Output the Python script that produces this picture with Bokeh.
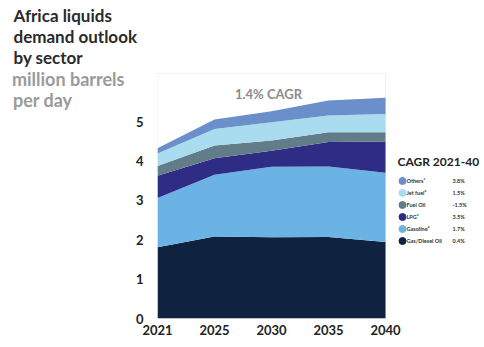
from bokeh.plotting import figure
from bokeh.models import (ColumnDataSource, Label, FixedTicker, Range1d, BoxAnnotation, LinearAxis)
from bokeh.embed import file_html
from bokeh.resources import INLINE
from bokeh.core.properties import value

years = ["2021", "2025", "2030", "2035", "2040"]
gas_diesel = [1.81, 2.08, 2.06, 2.07, 1.94]
gasoline = [1.25, 1.57, 1.79, 1.79, 1.76]
lpg = [0.56, 0.42, 0.41, 0.62, 0.79]
fuel_oil = [0.25, 0.32, 0.26, 0.25, 0.24]
jet_fuel = [0.32, 0.42, 0.46, 0.42, 0.46]
others = [0.13, 0.24, 0.28, 0.38, 0.41]
colors = ["#0f2340", "#6bb3e5", "#2f2c86", "#627d89", "#a9dcef", "#6a8fcb"]

legend_labels = ["Others\u00b9", "Jet fuel\u00b2", "Fuel Oil", "LPG\u00b3", "Gasoline\u2074", "Gas/Diesel Oil"]
legend_cagr = ["3.8%", "1.5%", "-1.5%", "3.5%", "1.7%", "0.4%"]
legend_colors = ["#6a8fcb", "#a9dcef", "#627d89", "#2f2c86", "#6bb3e5", "#0f2340"]
total_cagr = "1.4% CAGR"
title_text = "Africa liquids\ndemand outlook\nby sector"
unit_lines = ["million barrels", "per day"]
y_ticks = [0, 1, 2, 3, 4, 5]

FONT = "Lato"
TOP = 67            # frame top (px)
PPU = 39.4          # px per unit on y

xs = list(range(len(years)))
src = ColumnDataSource(dict(x=xs, gd=gas_diesel, gs=gasoline, lpg=lpg, fo=fuel_oil, jf=jet_fuel, ot=others))

p = figure(width=484, height=347, output_backend="svg", toolbar_location=None,
           x_range=Range1d(0, 4 + 99 / 57), y_range=Range1d(0, (318 - TOP) / PPU),
           min_border_left=157, min_border_right=0, min_border_top=TOP, min_border_bottom=29)
p.extra_x_ranges["px"] = Range1d(157, 484)
p.extra_y_ranges["px"] = Range1d(318, TOP)

p.add_layout(BoxAnnotation(left=0, right=4, bottom=0, top=(318 - 73) / PPU, fill_alpha=0,
                           line_color="#c8c8c8", line_width=1, level="underlay"))
p.varea_stack(stackers=["gd", "gs", "lpg", "fo", "jf", "ot"], x="x", color=colors, source=src)

p.outline_line_color = None
p.background_fill_color = "white"
p.border_fill_color = "white"
p.grid.visible = False

p.xaxis.ticker = FixedTicker(ticks=xs)
p.xaxis.major_label_overrides = {i: y for i, y in enumerate(years)}
p.yaxis.ticker = FixedTicker(ticks=y_ticks)

# unit lines shown as the labels of a second, bare axis on the left
NB = "\u00a0"
unit_axis = LinearAxis(y_range_name="px", ticker=FixedTicker(ticks=[78, 99]),
                       major_label_overrides={78: unit_lines[0], 99: unit_lines[1] + NB * 12})
p.add_layout(unit_axis, "left")

for ax in (p.xaxis[0], p.yaxis[0], unit_axis):
    ax.axis_line_color = None
    ax.major_tick_line_color = None
    ax.minor_tick_line_color = None
    ax.major_tick_out = 0
    ax.major_tick_in = 0
    ax.minor_tick_out = 0
    ax.minor_tick_in = 0
    ax.major_label_text_font = FONT
    ax.major_label_text_font_style = "bold"
    ax.major_label_text_font_size = "13px"
    ax.major_label_text_color = "#222222"
p.xaxis.major_label_standoff = 6
p.yaxis[0].major_label_standoff = 14
unit_axis.major_label_text_font_size = "18px"
unit_axis.major_label_text_color = "#9a9a9a"
unit_axis.major_label_standoff = 8

p.add_layout(Label(x=111, y=225, x_units="screen", y_units="screen", text=total_cagr,
                   text_font=FONT, text_font_style="bold", text_font_size="13px",
                   text_color="#8c8c8c", text_align="center", text_baseline="middle"))

# title
p.title.text = title_text
p.title.align = "left"
p.title.offset = 13 - 157
p.title.standoff = 0
p.title.text_font = FONT
p.title.text_font_style = "bold"
p.title.text_font_size = "17px"
p.title.text_color = "#2a2a2a"

# legend
ly = [180.5 + 12 * i for i in range(len(legend_labels))]
lsrc = ColumnDataSource(dict(y=ly, lab=legend_labels, cagr=legend_cagr, col=legend_colors))
p.scatter(x=402, y="y", size=7, color="col", source=lsrc, x_range_name="px", y_range_name="px")
p.text(x=406, y="y", text="lab", source=lsrc, text_font=value(FONT), text_font_style="bold",
       text_font_size="5.5px", text_color="#333333", text_baseline="middle",
       x_range_name="px", y_range_name="px")
p.text(x=452, y="y", text="cagr", source=lsrc, text_font=value(FONT), text_font_style="bold",
       text_font_size="5.5px", text_color="#333333", text_baseline="middle",
       x_range_name="px", y_range_name="px")
p.add_layout(Label(x=397, y=160.5, x_range_name="px", y_range_name="px", text="CAGR 2021-40",
                   text_font=FONT, text_font_style="bold", text_font_size="12px",
                   text_color="#222222", text_baseline="middle"))

open("out.html", "w").write(file_html(p, INLINE))
